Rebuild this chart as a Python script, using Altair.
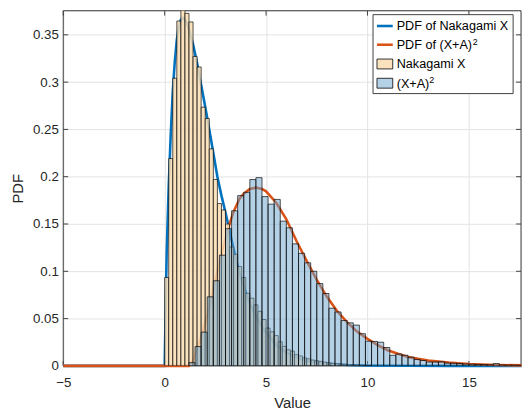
import altair as alt
import pandas as pd

# ---------------- data ----------------
nak_bin_start = 0.0
nak_bin_width = 0.2
nak_heights = [0.0934, 0.2192, 0.3041, 0.3646, 0.380, 0.3727, 0.3636, 0.3272, 0.3160, 0.2735,
               0.2616, 0.2294, 0.1971, 0.1716, 0.1648, 0.150, 0.1257, 0.118, 0.105, 0.0934,
               0.0767, 0.0716, 0.0645, 0.0577, 0.049, 0.040, 0.036, 0.032, 0.0255, 0.0206,
               0.017, 0.0156, 0.0119, 0.0105, 0.0085, 0.0075, 0.0062, 0.0055, 0.0048, 0.004,
               0.0032, 0.0028, 0.0022, 0.0018, 0.0015, 0.0012, 0.001, 0.0008, 0.0006, 0.0005,
               0.0004]

sq_bin_start = 1.2
sq_bin_width = 0.3
sq_heights = [0.0034, 0.0204, 0.0357, 0.073, 0.090, 0.117, 0.145, 0.164, 0.180, 0.1835,
              0.197, 0.199, 0.179, 0.171, 0.176, 0.153, 0.146, 0.129, 0.119, 0.109,
              0.100, 0.087, 0.0765, 0.061, 0.057, 0.048, 0.0455, 0.0431, 0.034, 0.0261,
              0.0258, 0.025, 0.0194, 0.0112, 0.0125, 0.0112, 0.0092, 0.0068, 0.0057, 0.0041,
              0.0041, 0.0044, 0.003, 0.0028, 0.0025, 0.002, 0.0018, 0.0015, 0.0014, 0.0012,
              0.0024, 0.001, 0.0009, 0.0008, 0.0007]

nak_pdf_x = [-5, 0, 0.1, 0.2, 0.3, 0.4, 0.5, 0.6, 0.7, 0.8, 0.9, 1.0, 1.1, 1.2, 1.4, 1.6, 1.8,
             2.0, 2.2, 2.4, 2.6, 2.8, 3.0, 3.25, 3.5, 3.75, 4.0, 4.25, 4.5, 4.75, 5.0, 5.5,
             6.0, 6.5, 7.0, 7.5, 8.0, 9.0, 10.0, 12.0, 14.0, 17.6]
nak_pdf_y = [0, 0, 0.12, 0.19, 0.245, 0.29, 0.322, 0.345, 0.359, 0.366, 0.368, 0.366, 0.362,
             0.356, 0.34, 0.32, 0.297, 0.274, 0.25, 0.225, 0.2, 0.18, 0.162, 0.138,
             0.114, 0.094, 0.0775, 0.064, 0.0526, 0.043, 0.035, 0.022, 0.014, 0.0088, 0.0055,
             0.0035, 0.0022, 0.0009, 0.0004, 0.0001, 0.0, 0.0]

sq_pdf_x = [-5, 1.2, 1.3, 1.4, 1.6, 1.8, 2.0, 2.2, 2.4, 2.6, 2.9, 3.2, 3.4, 3.7, 3.9, 4.2,
            4.5, 4.8, 5.0, 5.5, 6.0, 6.5, 7.0, 7.5, 8.0, 8.5, 9.0, 9.5, 10.0, 10.5, 11.0,
            11.5, 12.0, 12.5, 13.0, 13.5, 14.0, 15.0, 16.0, 17.6]
sq_pdf_y = [0, 0, 0.002, 0.006, 0.018, 0.031, 0.046, 0.062, 0.081, 0.1, 0.127, 0.15, 0.163,
            0.177, 0.182, 0.187, 0.1885, 0.187, 0.1845, 0.1725, 0.155, 0.132, 0.111, 0.091,
            0.073, 0.058, 0.046, 0.036, 0.0285, 0.022, 0.0165, 0.0128, 0.0095, 0.0074,
            0.0057, 0.0046, 0.0035, 0.002, 0.0012, 0.0005]

x_ticks = [-5, 0, 5, 10, 15]
y_ticks = [0, 0.05, 0.1, 0.15, 0.2, 0.25, 0.3, 0.35]
x_domain = [-5, 17.57]
y_domain = [0, 0.3755]
legend_labels = ["PDF of Nakagami X", "PDF of (X+A)", "Nakagami X", "(X+A)"]

# ---------------- styling ----------------
W, H = 464, 360
FONT = "Liberation Sans"
TXT = "#262626"
C_LINE1 = "#0072BD"
C_LINE2 = "#D95319"
C_ORANGE = "#F9DDB4"
C_BLUE = "#6CA3CE"
BLUE_OP = 0.5

nak_df = pd.DataFrame({
    "x0": [nak_bin_start + i * nak_bin_width for i in range(len(nak_heights))],
    "h": nak_heights,
})
nak_df["x1"] = nak_df["x0"] + nak_bin_width
sq_df = pd.DataFrame({
    "x0": [sq_bin_start + i * sq_bin_width for i in range(len(sq_heights))],
    "h": sq_heights,
})
sq_df["x1"] = sq_df["x0"] + sq_bin_width
pdf1 = pd.DataFrame({"x": nak_pdf_x, "y": nak_pdf_y})
pdf2 = pd.DataFrame({"x": sq_pdf_x, "y": sq_pdf_y})

xs = alt.Scale(domain=x_domain, nice=False, zero=False)
ys = alt.Scale(domain=y_domain, nice=False, zero=False)

x_axis = alt.Axis(values=x_ticks, title="Value", grid=True, gridColor="#E3E3E3", gridWidth=1,
                  ticks=False, tickSize=0, domain=False, labelFlush=False,
                  labelFont=FONT, labelFontSize=13.5, labelColor=TXT, labelPadding=10,
                  titleFont=FONT, titleFontSize=15, titleFontWeight="normal", titleColor=TXT,
                  titleY=37, titleBaseline="middle")
y_axis = alt.Axis(values=y_ticks, format="~g", title="PDF", grid=True, gridColor="#E3E3E3",
                  gridWidth=1, ticks=False, tickSize=0, domain=False, labelFlush=False,
                  labelFont=FONT, labelFontSize=13.5, labelColor=TXT, labelPadding=5,
                  titleFont=FONT, titleFontSize=15, titleFontWeight="normal", titleColor=TXT,
                  titleX=-46, titleY=H / 2, titleBaseline="middle", titleAlign="center")


def X(field):
    return alt.X(field, scale=xs, axis=x_axis, title="Value")


def Y(field):
    return alt.Y(field, scale=ys, axis=y_axis, title="PDF")


line1 = alt.Chart(pdf1).mark_line(color=C_LINE1, strokeWidth=2.6).encode(
    x=X("x:Q"), y=Y("y:Q"))
line2 = alt.Chart(pdf2).mark_line(color=C_LINE2, strokeWidth=2.6).encode(
    x=X("x:Q"), y=Y("y:Q"))

bars_nak = alt.Chart(nak_df).mark_rect(fill=C_ORANGE, fillOpacity=0.85, stroke="#000000",
                                        strokeWidth=0.8, strokeOpacity=0.85, clip=True).encode(
    x=X("x0:Q"), x2="x1:Q", y=Y("h:Q"), y2=alt.datum(0))
bars_sq = alt.Chart(sq_df).mark_rect(fill=C_BLUE, fillOpacity=BLUE_OP, stroke="#000000",
                                      strokeWidth=0.8, strokeOpacity=0.85, clip=True).encode(
    x=X("x0:Q"), x2="x1:Q", y=Y("h:Q"), y2=alt.datum(0))

# inward ticks and box
xt = pd.DataFrame({"v": x_ticks})
yt = pd.DataFrame({"v": y_ticks})
TK = 5
TCOL = "#404040"
ticks_bottom = alt.Chart(xt).mark_rule(color=TCOL, strokeWidth=1).encode(
    x=X("v:Q"), y=alt.value(H), y2=alt.value(H - TK))
ticks_top = alt.Chart(xt).mark_rule(color=TCOL, strokeWidth=1).encode(
    x=X("v:Q"), y=alt.value(0), y2=alt.value(TK))
ticks_left = alt.Chart(yt).mark_rule(color=TCOL, strokeWidth=1).encode(
    y=Y("v:Q"), x=alt.value(0), x2=alt.value(TK))
ticks_right = alt.Chart(yt).mark_rule(color=TCOL, strokeWidth=1).encode(
    y=Y("v:Q"), x=alt.value(W), x2=alt.value(W - TK))

one = pd.DataFrame({"a": [0]})
frame = alt.Chart(one).mark_rect(fill=None, stroke=TCOL, strokeWidth=1).encode(
    x=alt.value(0), x2=alt.value(W), y=alt.value(0), y2=alt.value(H))

# legend (positions in plot pixels)
LX0, LX1, LY0, LY1 = 314, 456, 4, 84
rows = [15.5, 34.5, 54, 73.5]
sym_x0, sym_x1, txt_x = 318, 334, 338
leg_box = alt.Chart(one).mark_rect(fill="white", stroke=TCOL, strokeWidth=1).encode(
    x=alt.value(LX0), x2=alt.value(LX1), y=alt.value(LY0), y2=alt.value(LY1))
leg_l1 = alt.Chart(one).mark_rule(color=C_LINE1, strokeWidth=2.6).encode(
    x=alt.value(sym_x0), x2=alt.value(sym_x1), y=alt.value(rows[0]))
leg_l2 = alt.Chart(one).mark_rule(color=C_LINE2, strokeWidth=2.6).encode(
    x=alt.value(sym_x0), x2=alt.value(sym_x1), y=alt.value(rows[1]))
leg_p1 = alt.Chart(one).mark_rect(fill=C_ORANGE, fillOpacity=0.85, stroke="#000", strokeWidth=0.8).encode(
    x=alt.value(sym_x0), x2=alt.value(sym_x1), y=alt.value(rows[2] - 5), y2=alt.value(rows[2] + 5))
leg_p2 = alt.Chart(one).mark_rect(fill=C_BLUE, fillOpacity=BLUE_OP, stroke="#000", strokeWidth=0.8).encode(
    x=alt.value(sym_x0), x2=alt.value(sym_x1), y=alt.value(rows[3] - 5), y2=alt.value(rows[3] + 5))

leg_texts = []
for lab, yy in zip(legend_labels, rows):
    leg_texts.append(alt.Chart(one).mark_text(align="left", baseline="middle", font=FONT,
                                              fontSize=12.8, color="#000000").encode(
        x=alt.value(txt_x), y=alt.value(yy + 0.5), text=alt.value(lab)))
sup_offsets = [77, 33]
for off, yy in zip(sup_offsets, [rows[1], rows[3]]):
    leg_texts.append(alt.Chart(one).mark_text(align="left", baseline="middle", font=FONT,
                                              fontSize=9, color="#000000").encode(
        x=alt.value(txt_x + off), y=alt.value(yy - 3), text=alt.value("2")))

chart = alt.layer(
    frame, ticks_bottom, ticks_top, ticks_left, ticks_right,
    line1, line2, bars_nak, bars_sq,
    leg_box, leg_l1, leg_l2, leg_p1, leg_p2, *leg_texts,
).properties(
    width=W, height=H,
    autosize=alt.AutoSizeParams(type="none"),
    padding={"left": 56, "top": 0, "right": 1, "bottom": 43},
).configure_view(stroke=None).configure(background="white")

chart.save("out.html", embed_options={"renderer": "svg", "actions": False})
